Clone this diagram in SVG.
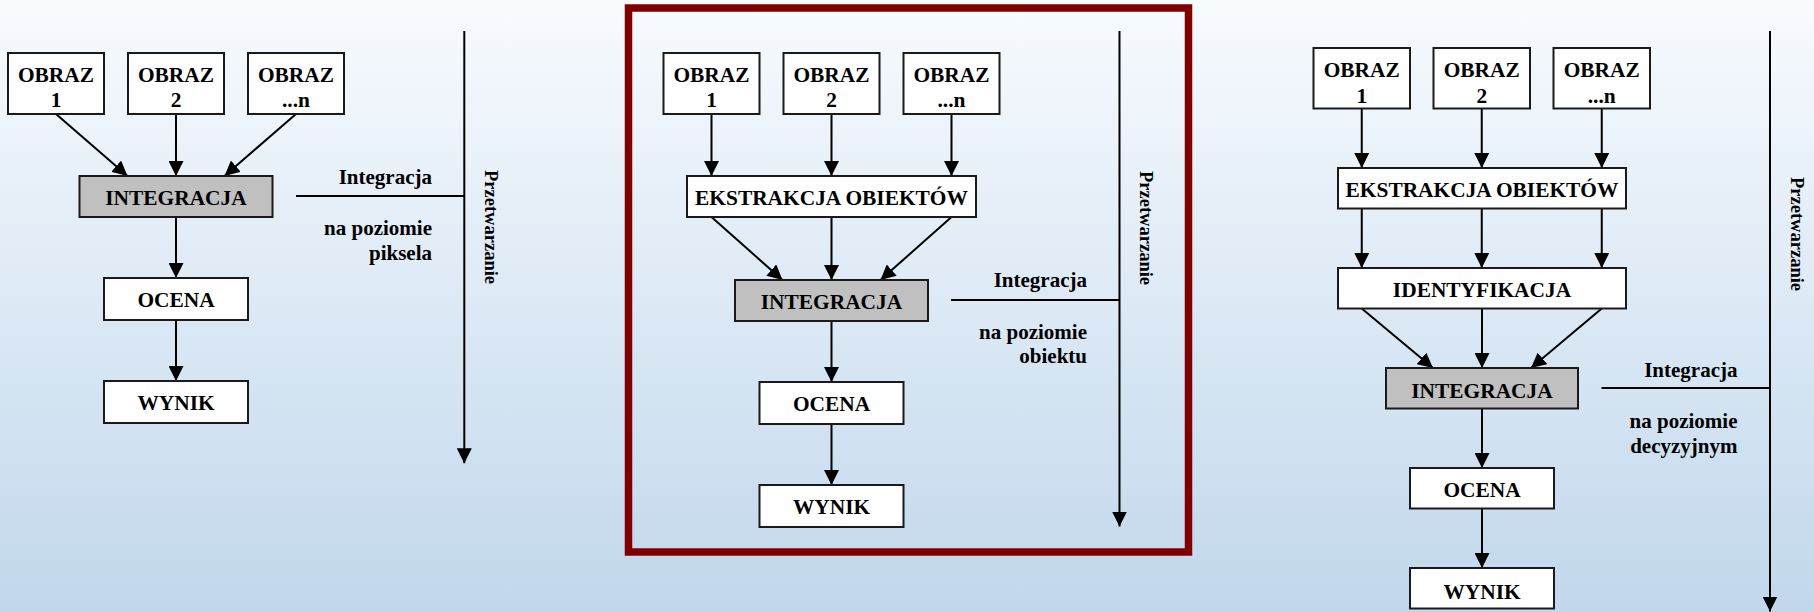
<svg xmlns="http://www.w3.org/2000/svg" width="1814" height="612" viewBox="0 0 1814 612">
<style>
text{font-family:"Liberation Serif","Times New Roman",serif;font-weight:bold;fill:#000}
.t{font-size:21.4px;text-anchor:middle}
.s{font-size:21px;text-anchor:end}
.v{font-size:18.5px}
.box{fill:#fff;stroke:#1a1a1a;stroke-width:2}
.grey{fill:#c0c0c0;stroke:#1a1a1a;stroke-width:2}
.c{fill:none;stroke:#000;stroke-width:2}
.a{marker-end:url(#ah)}
</style>
<defs>
<linearGradient id="bg" x1="0" y1="0" x2="0" y2="1">
<stop offset="0" stop-color="#f8fbfe"/>
<stop offset="1" stop-color="#c1d7ec"/>
</linearGradient>
<marker id="ah" markerUnits="userSpaceOnUse" markerWidth="15" markerHeight="15" refX="15" refY="7.5" orient="auto">
<path d="M0,0 L15,7.5 L0,15 z" fill="#000"/>
</marker>
</defs>
<rect x="0" y="0" width="1814" height="612" fill="url(#bg)"/>
<rect id="frame" x="628.5" y="8" width="560" height="544" fill="none" stroke="#800000" stroke-width="7.5"/>

<g id="connectors">
<path class="c a" d="M56,114 L127.5,176"/>
<path class="c a" d="M176,114 L176,176"/>
<path class="c a" d="M296,114 L224.5,176"/>
<path class="c a" d="M176,217 L176,278"/>
<path class="c a" d="M176,320 L176,381"/>
<path class="c a" d="M464.3,31 L464.3,463.3"/>
<path class="c" d="M296,196 L464.3,196"/>

<path class="c a" d="M711.5,114 L711.5,176"/>
<path class="c a" d="M831.5,114 L831.5,176"/>
<path class="c a" d="M951.5,114 L951.5,176"/>
<path class="c a" d="M711.5,217 L782.5,280"/>
<path class="c a" d="M831.5,217 L831.5,280"/>
<path class="c a" d="M951.5,217 L880.5,280"/>
<path class="c a" d="M831.5,321 L831.5,382"/>
<path class="c a" d="M831.5,424 L831.5,485"/>
<path class="c a" d="M1119.5,31 L1119.5,526.5"/>
<path class="c" d="M951,300 L1119.5,300"/>

<path class="c a" d="M1361.75,108.5 L1361.75,168"/>
<path class="c a" d="M1481.75,108.5 L1481.75,168"/>
<path class="c a" d="M1601.75,108.5 L1601.75,168"/>
<path class="c a" d="M1361.75,208.5 L1361.75,268"/>
<path class="c a" d="M1481.75,208.5 L1481.75,268"/>
<path class="c a" d="M1601.75,208.5 L1601.75,268"/>
<path class="c a" d="M1361.75,308.5 L1433,368"/>
<path class="c a" d="M1482,308.5 L1482,368"/>
<path class="c a" d="M1601.75,308.5 L1531,368"/>
<path class="c a" d="M1482,408.5 L1482,468"/>
<path class="c a" d="M1482,508.5 L1482,568"/>
<path class="c a" d="M1770,31 L1770,611.5"/>
<path class="c" d="M1601.5,388 L1770,388"/>
</g>

<!-- Panel 1 -->
<g id="p1-obraz1"><rect class="box" x="8" y="53" width="96" height="61"/><text class="t" x="56" y="82.3">OBRAZ</text><text class="t" x="56" y="107">1</text></g>
<g id="p1-obraz2"><rect class="box" x="128" y="53" width="96" height="61"/><text class="t" x="176" y="82.3">OBRAZ</text><text class="t" x="176" y="107">2</text></g>
<g id="p1-obrazn"><rect class="box" x="248" y="53" width="96" height="61"/><text class="t" x="296" y="82.3">OBRAZ</text><text class="t" x="296" y="107">...n</text></g>
<g id="p1-integracja"><rect class="grey" x="79.5" y="176" width="193" height="41"/><text class="t" x="176" y="204.5">INTEGRACJA</text></g>
<g id="p1-ocena"><rect class="box" x="104" y="278" width="144" height="42"/><text class="t" x="176" y="307.3">OCENA</text></g>
<g id="p1-wynik"><rect class="box" x="104" y="381" width="144" height="42"/><text class="t" x="176" y="410.3">WYNIK</text></g>
<g id="p1-label"><text class="s" x="432" y="183.5">Integracja</text><text class="s" x="432" y="234.5">na poziomie</text><text class="s" x="432" y="260">piksela</text></g>
<g id="p1-axis"><text class="v" transform="translate(485,170) rotate(90)">Przetwarzanie</text></g>

<!-- Panel 2 -->
<g id="p2-obraz1"><rect class="box" x="663.5" y="53" width="96" height="61"/><text class="t" x="711.5" y="82.3">OBRAZ</text><text class="t" x="711.5" y="107">1</text></g>
<g id="p2-obraz2"><rect class="box" x="783.5" y="53" width="96" height="61"/><text class="t" x="831.5" y="82.3">OBRAZ</text><text class="t" x="831.5" y="107">2</text></g>
<g id="p2-obrazn"><rect class="box" x="903.5" y="53" width="96" height="61"/><text class="t" x="951.5" y="82.3">OBRAZ</text><text class="t" x="951.5" y="107">...n</text></g>
<g id="p2-ekstrakcja"><rect class="box" x="687" y="176" width="289" height="41"/><text class="t" x="831.5" y="204.5">EKSTRAKCJA OBIEKTÓW</text></g>
<g id="p2-integracja"><rect class="grey" x="735" y="280" width="193" height="41"/><text class="t" x="831.5" y="308.5">INTEGRACJA</text></g>
<g id="p2-ocena"><rect class="box" x="759.5" y="382" width="144" height="42"/><text class="t" x="831.5" y="411.3">OCENA</text></g>
<g id="p2-wynik"><rect class="box" x="759.5" y="485" width="144" height="42"/><text class="t" x="831.5" y="514">WYNIK</text></g>
<g id="p2-label"><text class="s" x="1087" y="286.5">Integracja</text><text class="s" x="1087" y="339.3">na poziomie</text><text class="s" x="1087" y="363">obiektu</text></g>
<g id="p2-axis"><text class="v" transform="translate(1140,171) rotate(90)">Przetwarzanie</text></g>

<!-- Panel 3 -->
<g id="p3-obraz1"><rect class="box" x="1313.5" y="48" width="96.5" height="60.5"/><text class="t" x="1361.75" y="77.3">OBRAZ</text><text class="t" x="1361.75" y="102.7">1</text></g>
<g id="p3-obraz2"><rect class="box" x="1433.5" y="48" width="96.5" height="60.5"/><text class="t" x="1481.75" y="77.3">OBRAZ</text><text class="t" x="1481.75" y="102.7">2</text></g>
<g id="p3-obrazn"><rect class="box" x="1553.5" y="48" width="96.5" height="60.5"/><text class="t" x="1601.75" y="77.3">OBRAZ</text><text class="t" x="1601.75" y="102.7">...n</text></g>
<g id="p3-ekstrakcja"><rect class="box" x="1338" y="168" width="288" height="40.5"/><text class="t" x="1482" y="196.8">EKSTRAKCJA OBIEKTÓW</text></g>
<g id="p3-identyfikacja"><rect class="box" x="1338" y="268" width="288" height="40.5"/><text class="t" x="1482" y="297.3">IDENTYFIKACJA</text></g>
<g id="p3-integracja"><rect class="grey" x="1386" y="368" width="192" height="40.5"/><text class="t" x="1482" y="398">INTEGRACJA</text></g>
<g id="p3-ocena"><rect class="box" x="1410" y="468" width="144" height="40.5"/><text class="t" x="1482" y="497.3">OCENA</text></g>
<g id="p3-wynik"><rect class="box" x="1410" y="568" width="144" height="40.5"/><text class="t" x="1482" y="599">WYNIK</text></g>
<g id="p3-label"><text class="s" x="1737.5" y="376.7">Integracja</text><text class="s" x="1737.5" y="427.7">na poziomie</text><text class="s" x="1737.5" y="452.5">decyzyjnym</text></g>
<g id="p3-axis"><text class="v" transform="translate(1790.5,177) rotate(90)">Przetwarzanie</text></g>
</svg>
